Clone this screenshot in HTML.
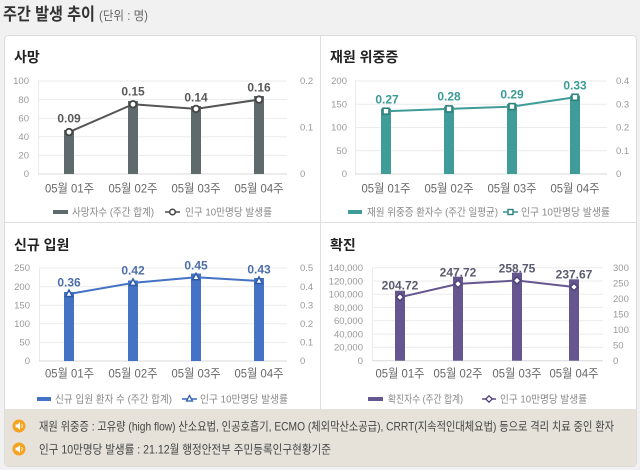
<!DOCTYPE html>
<html><head><meta charset="utf-8">
<style>
html,body{margin:0;padding:0;background:#f1f1f1;}
svg{display:block;}
text{font-family:"Liberation Sans","Noto Sans CJK KR",sans-serif;}
</style></head>
<body>
<svg width="640" height="470" viewBox="0 0 640 470" xmlns="http://www.w3.org/2000/svg">
<rect x="0" y="0" width="640" height="470" fill="#f1f1f1"/>
<!-- title -->
<text x="3" y="20" font-size="17" font-weight="bold" fill="#333" textLength="92" lengthAdjust="spacingAndGlyphs">주간 발생 추이</text>
<text x="99" y="20" font-size="12.5" fill="#666" textLength="49" lengthAdjust="spacingAndGlyphs">(단위 : 명)</text>
<!-- panel -->
<rect x="4.5" y="35.5" width="632" height="431" rx="4" fill="#ffffff" stroke="#dcdcdc"/>
<rect x="5" y="409" width="631" height="57" fill="#e6e2da"/>
<line x1="320.5" y1="36" x2="320.5" y2="409" stroke="#dedede"/>
<line x1="5" y1="222.5" x2="636" y2="222.5" stroke="#dedede"/>

<!-- panel titles -->
<text x="14" y="62" font-size="14" font-weight="bold" fill="#222">사망</text>
<text x="330" y="62" font-size="14" font-weight="bold" fill="#222">재원 위중증</text>
<text x="14" y="250" font-size="14" font-weight="bold" fill="#222">신규 입원</text>
<text x="330" y="250" font-size="14" font-weight="bold" fill="#222">확진</text>

<!-- ========== Chart 1 ========== -->
<g stroke="#ebebeb" stroke-width="1">
<line x1="38" y1="81" x2="287" y2="81"/><line x1="38" y1="99.6" x2="287" y2="99.6"/>
<line x1="38" y1="118.2" x2="287" y2="118.2"/><line x1="38" y1="136.8" x2="287" y2="136.8"/>
<line x1="38" y1="155.4" x2="287" y2="155.4"/>
<line x1="38.5" y1="81" x2="38.5" y2="174"/>
</g>
<line x1="38" y1="174" x2="287" y2="174" stroke="#d9d9d9"/>
<g font-size="9.5" fill="#999" text-anchor="end">
<text x="29" y="84">100</text><text x="29" y="103">80</text><text x="29" y="121.5">60</text>
<text x="29" y="140">40</text><text x="29" y="158.5">20</text><text x="29" y="177">0</text>
</g>
<g font-size="9.5" fill="#999">
<text x="300" y="84">0.2</text><text x="300" y="130.5">0.1</text><text x="300" y="177">0</text>
</g>
<g fill="#5f6a6c">
<rect x="64" y="130" width="10" height="44"/><rect x="128" y="101" width="10" height="73"/>
<rect x="191" y="106" width="10" height="68"/><rect x="254" y="96" width="10" height="78"/>
</g>
<polyline points="69,132.1 133,104.3 196,108.9 259,99.6" fill="none" stroke="#555" stroke-width="2"/>
<g fill="#fff" stroke="#444" stroke-width="1.8">
<circle cx="69" cy="132.1" r="3.3"/><circle cx="133" cy="104.3" r="3.3"/>
<circle cx="196" cy="108.9" r="3.3"/><circle cx="259" cy="99.6" r="3.3"/>
</g>
<g font-size="12" font-weight="bold" fill="#595959" text-anchor="middle">
<text x="69" y="122.5">0.09</text><text x="133" y="95.5">0.15</text>
<text x="196" y="101.5">0.14</text><text x="259" y="91.5">0.16</text>
</g>
<g font-size="12" fill="#666" text-anchor="middle">
<text x="69.5" y="192.5" textLength="49" lengthAdjust="spacingAndGlyphs">05월 01주</text>
<text x="133" y="192.5" textLength="49" lengthAdjust="spacingAndGlyphs">05월 02주</text>
<text x="196" y="192.5" textLength="49" lengthAdjust="spacingAndGlyphs">05월 03주</text>
<text x="259" y="192.5" textLength="49" lengthAdjust="spacingAndGlyphs">05월 04주</text>
</g>
<rect x="53" y="210" width="15" height="4" fill="#5f6a6c"/>
<text x="72" y="215.5" font-size="10.5" fill="#888" textLength="82" lengthAdjust="spacingAndGlyphs">사망자수 (주간 합계)</text>
<line x1="165" y1="212" x2="180" y2="212" stroke="#555" stroke-width="1.6"/>
<circle cx="172.5" cy="212" r="2.8" fill="#fff" stroke="#444" stroke-width="1.5"/>
<text x="185" y="215.5" font-size="10.5" fill="#888" textLength="87" lengthAdjust="spacingAndGlyphs">인구 10만명당 발생률</text>

<!-- ========== Chart 2 ========== -->
<g stroke="#ebebeb" stroke-width="1">
<line x1="355" y1="81" x2="607" y2="81"/><line x1="355" y1="104.25" x2="607" y2="104.25"/>
<line x1="355" y1="127.5" x2="607" y2="127.5"/><line x1="355" y1="150.75" x2="607" y2="150.75"/>
<line x1="355.5" y1="81" x2="355.5" y2="174"/>
</g>
<line x1="355" y1="174" x2="607" y2="174" stroke="#d9d9d9"/>
<g font-size="9.5" fill="#999" text-anchor="end">
<text x="347" y="84">200</text><text x="347" y="107.5">150</text><text x="347" y="130.5">100</text>
<text x="347" y="154">50</text><text x="347" y="177">0</text>
</g>
<g font-size="9.5" fill="#999">
<text x="616" y="84">0.4</text><text x="616" y="107.5">0.3</text><text x="616" y="130.5">0.2</text>
<text x="616" y="154">0.1</text><text x="616" y="177">0</text>
</g>
<g fill="#3f9c99">
<rect x="381" y="108.5" width="10" height="65.5"/><rect x="444" y="106.5" width="10" height="67.5"/>
<rect x="507" y="104" width="10" height="70"/><rect x="570" y="95.5" width="10" height="78.5"/>
</g>
<polyline points="386,111.2 449,108.9 512,106.6 575,97.3" fill="none" stroke="#3f9c99" stroke-width="2"/>
<g fill="#fff" stroke="#2f7f7c" stroke-width="1.6">
<rect x="383" y="108.2" width="6" height="6"/><rect x="446" y="105.9" width="6" height="6"/>
<rect x="509" y="103.6" width="6" height="6"/><rect x="572" y="94.3" width="6" height="6"/>
</g>
<g font-size="12" font-weight="bold" fill="#3a9a96" text-anchor="middle">
<text x="387" y="103.5">0.27</text><text x="449" y="100.5">0.28</text>
<text x="512" y="98.5">0.29</text><text x="575" y="89.5">0.33</text>
</g>
<g font-size="12" fill="#666" text-anchor="middle">
<text x="386" y="192.5" textLength="49" lengthAdjust="spacingAndGlyphs">05월 01주</text>
<text x="449" y="192.5" textLength="49" lengthAdjust="spacingAndGlyphs">05월 02주</text>
<text x="512" y="192.5" textLength="49" lengthAdjust="spacingAndGlyphs">05월 03주</text>
<text x="575" y="192.5" textLength="49" lengthAdjust="spacingAndGlyphs">05월 04주</text>
</g>
<rect x="348" y="210" width="14" height="4" fill="#3f9c99"/>
<text x="367" y="215.5" font-size="10.5" fill="#888" textLength="131" lengthAdjust="spacingAndGlyphs">재원 위중증 환자수 (주간 일평균)</text>
<line x1="503" y1="212" x2="518" y2="212" stroke="#3f9c99" stroke-width="1.6"/>
<rect x="508" y="209.5" width="5" height="5" fill="#fff" stroke="#2f7f7c" stroke-width="1.4"/>
<text x="521" y="215.5" font-size="10.5" fill="#888" textLength="89" lengthAdjust="spacingAndGlyphs">인구 10만명당 발생률</text>

<!-- ========== Chart 3 ========== -->
<g stroke="#ebebeb" stroke-width="1">
<line x1="39" y1="268" x2="287" y2="268"/><line x1="39" y1="286.6" x2="287" y2="286.6"/>
<line x1="39" y1="305.2" x2="287" y2="305.2"/><line x1="39" y1="323.8" x2="287" y2="323.8"/>
<line x1="39" y1="342.4" x2="287" y2="342.4"/>
<line x1="39.5" y1="268" x2="39.5" y2="361"/>
</g>
<line x1="39" y1="361" x2="287" y2="361" stroke="#d9d9d9"/>
<g font-size="9.5" fill="#999" text-anchor="end">
<text x="30" y="271">250</text><text x="30" y="290">200</text><text x="30" y="308.5">150</text>
<text x="30" y="327">100</text><text x="30" y="345.5">50</text><text x="30" y="364">0</text>
</g>
<g font-size="9.5" fill="#999">
<text x="300" y="271">0.5</text><text x="300" y="290">0.4</text><text x="300" y="308.5">0.3</text>
<text x="300" y="327">0.2</text><text x="300" y="345.5">0.1</text><text x="300" y="364">0</text>
</g>
<g fill="#4472c4">
<rect x="64" y="292" width="10" height="69"/><rect x="128" y="280.5" width="10" height="80.5"/>
<rect x="191" y="273.5" width="10" height="87.5"/><rect x="254" y="278" width="10" height="83"/>
</g>
<polyline points="69,294 133,282.9 196,277.3 259,281" fill="none" stroke="#4472c4" stroke-width="2"/>
<g fill="#fff" stroke="#2f5aa8" stroke-width="1.5">
<polygon points="69,290 65.5,296.5 72.5,296.5"/><polygon points="133,278.9 129.5,285.4 136.5,285.4"/>
<polygon points="196,273.3 192.5,279.8 199.5,279.8"/><polygon points="259,277 255.5,283.5 262.5,283.5"/>
</g>
<g font-size="12" font-weight="bold" fill="#4d6fa8" text-anchor="middle">
<text x="69" y="286.5">0.36</text><text x="133" y="274.5">0.42</text>
<text x="196" y="269.5">0.45</text><text x="259" y="273.5">0.43</text>
</g>
<g font-size="12" fill="#666" text-anchor="middle">
<text x="69.5" y="377.5" textLength="49" lengthAdjust="spacingAndGlyphs">05월 01주</text>
<text x="133" y="377.5" textLength="49" lengthAdjust="spacingAndGlyphs">05월 02주</text>
<text x="196" y="377.5" textLength="49" lengthAdjust="spacingAndGlyphs">05월 03주</text>
<text x="259" y="377.5" textLength="49" lengthAdjust="spacingAndGlyphs">05월 04주</text>
</g>
<rect x="37" y="397" width="14" height="4" fill="#4472c4"/>
<text x="55" y="402.5" font-size="10.5" fill="#888" textLength="117" lengthAdjust="spacingAndGlyphs">신규 입원 환자 수 (주간 합계)</text>
<line x1="182" y1="399" x2="197" y2="399" stroke="#4472c4" stroke-width="1.6"/>
<polygon points="189.5,395.5 186.5,401 192.5,401" fill="#fff" stroke="#2f5aa8" stroke-width="1.3"/>
<text x="200" y="402.5" font-size="10.5" fill="#888" textLength="88" lengthAdjust="spacingAndGlyphs">인구 10만명당 발생률</text>

<!-- ========== Chart 4 ========== -->
<g stroke="#ebebeb" stroke-width="1">
<line x1="372" y1="267.7" x2="603" y2="267.7"/><line x1="372" y1="281" x2="603" y2="281"/>
<line x1="372" y1="294.3" x2="603" y2="294.3"/><line x1="372" y1="307.6" x2="603" y2="307.6"/>
<line x1="372" y1="320.8" x2="603" y2="320.8"/><line x1="372" y1="334.1" x2="603" y2="334.1"/>
<line x1="372" y1="347.4" x2="603" y2="347.4"/>
<line x1="372.5" y1="267.7" x2="372.5" y2="360.7"/>
</g>
<line x1="372" y1="360.7" x2="603" y2="360.7" stroke="#d9d9d9"/>
<g font-size="9.5" fill="#999" text-anchor="end">
<text x="363" y="271">140,000</text><text x="363" y="284.3">120,000</text><text x="363" y="297.6">100,000</text>
<text x="363" y="310.9">80,000</text><text x="363" y="324.1">60,000</text><text x="363" y="337.4">40,000</text>
<text x="363" y="350.7">20,000</text><text x="363" y="364">0</text>
</g>
<g font-size="9.5" fill="#999">
<text x="613" y="271">300</text><text x="613" y="286.5">250</text><text x="613" y="302">200</text>
<text x="613" y="317.5">150</text><text x="613" y="333">100</text><text x="613" y="348.5">50</text>
<text x="613" y="364">0</text>
</g>
<g fill="#65568f">
<rect x="395" y="290.7" width="10" height="70"/><rect x="453" y="276.7" width="10" height="84"/>
<rect x="512" y="272.7" width="10" height="88"/><rect x="569" y="279.3" width="10" height="81.4"/>
</g>
<polyline points="400,297.2 458,283.9 517,280.5 574,287" fill="none" stroke="#65568f" stroke-width="2"/>
<g fill="#fff" stroke="#4e4278" stroke-width="1.5">
<polygon points="400,293.5 403.7,297.2 400,300.9 396.3,297.2"/>
<polygon points="458,280.2 461.7,283.9 458,287.6 454.3,283.9"/>
<polygon points="517,276.8 520.7,280.5 517,284.2 513.3,280.5"/>
<polygon points="574,283.3 577.7,287 574,290.7 570.3,287"/>
</g>
<g font-size="12" font-weight="bold" fill="#5a5a70" text-anchor="middle">
<text x="400" y="289.5">204.72</text><text x="458" y="276.5">247.72</text>
<text x="517" y="272.5">258.75</text><text x="574" y="278.5">237.67</text>
</g>
<g font-size="12" fill="#666" text-anchor="middle">
<text x="400" y="377.5" textLength="49" lengthAdjust="spacingAndGlyphs">05월 01주</text>
<text x="458" y="377.5" textLength="49" lengthAdjust="spacingAndGlyphs">05월 02주</text>
<text x="517" y="377.5" textLength="49" lengthAdjust="spacingAndGlyphs">05월 03주</text>
<text x="574" y="377.5" textLength="49" lengthAdjust="spacingAndGlyphs">05월 04주</text>
</g>
<rect x="368" y="397" width="15" height="4" fill="#65568f"/>
<text x="388" y="402.5" font-size="10.5" fill="#888" textLength="75" lengthAdjust="spacingAndGlyphs">확진자수 (주간 합계)</text>
<line x1="482" y1="399" x2="496" y2="399" stroke="#65568f" stroke-width="1.6"/>
<polygon points="489,395.8 492.2,399 489,402.2 485.8,399" fill="#fff" stroke="#4e4278" stroke-width="1.3"/>
<text x="500" y="402.5" font-size="10.5" fill="#888" textLength="87" lengthAdjust="spacingAndGlyphs">인구 10만명당 발생률</text>

<!-- notes -->
<g>
<circle cx="19" cy="426" r="6.5" fill="#f5a21e"/>
<polygon points="15.5,424.5 17.5,424.5 20,422 20,430 17.5,427.5 15.5,427.5" fill="#fff"/>
<path d="M21.5,424 Q23,426 21.5,428" fill="none" stroke="#fff" stroke-width="0.9"/>
<circle cx="19" cy="449" r="6.5" fill="#f5a21e"/>
<polygon points="15.5,447.5 17.5,447.5 20,445 20,453 17.5,450.5 15.5,450.5" fill="#fff"/>
<path d="M21.5,447 Q23,449 21.5,451" fill="none" stroke="#fff" stroke-width="0.9"/>
</g>
<text x="39" y="430.5" font-size="12" fill="#444" textLength="575" lengthAdjust="spacingAndGlyphs">재원 위중증 : 고유량 (high flow) 산소요법, 인공호흡기, ECMO (체외막산소공급), CRRT(지속적인대체요법) 등으로 격리 치료 중인 환자</text>
<text x="39" y="453.5" font-size="12" fill="#444" textLength="292" lengthAdjust="spacingAndGlyphs">인구 10만명당 발생률 : 21.12월 행정안전부 주민등록인구현황기준</text>
</svg>
</body></html>
